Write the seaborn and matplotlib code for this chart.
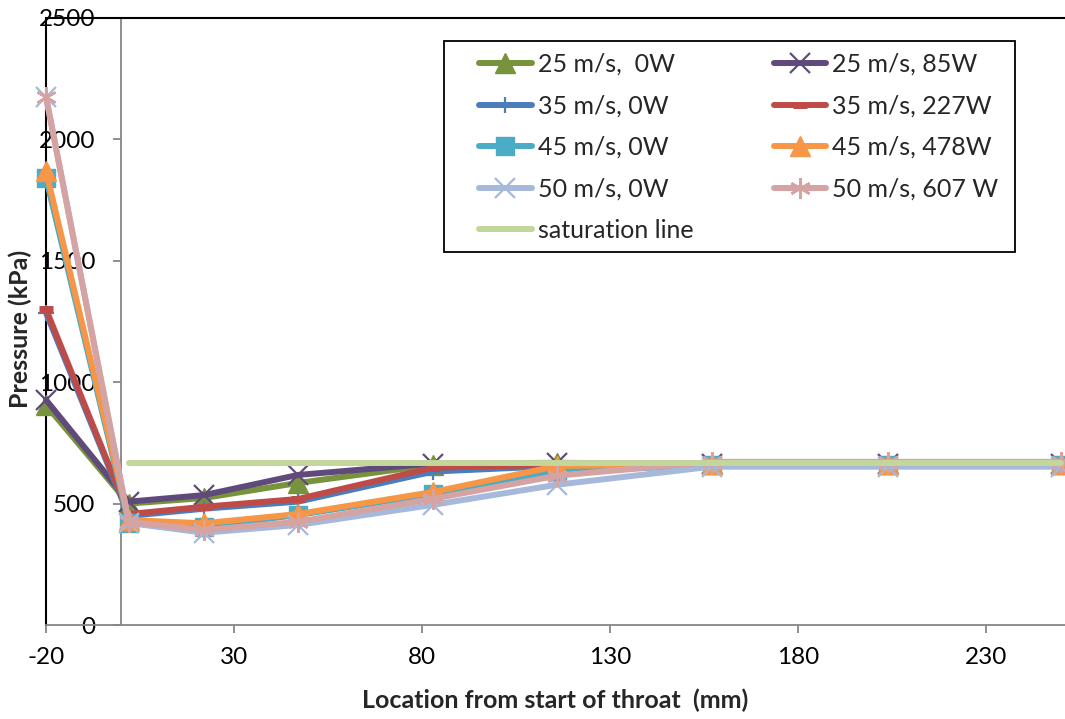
import matplotlib
matplotlib.use("Agg")
import matplotlib.pyplot as plt
from matplotlib.patches import Rectangle
import seaborn as sns

# ---------------- data ----------------
x_mm = [-20, 2, 22, 47, 83, 116, 157, 204, 250]
p25_0W = [906, 500, 523, 585, 660, 666, 663, 663, 663]
p25_85W = [927, 508, 535, 618, 665, 668, 664, 664, 664]
p35_0W = [1286, 449, 479, 508, 632, 655, 662, 662, 662]
p35_227W = [1301, 457, 487, 519, 648, 660, 663, 663, 663]
p45_0W = [1841, 420, 405, 453, 540, 632, 658, 658, 658]
p45_478W = [1870, 432, 419, 457, 548, 655, 662, 662, 662]
p50_0W = [2176, 420, 380, 412, 495, 578, 652, 652, 652]
p50_607W = [2176, 425, 391, 425, 520, 615, 672, 672, 672]
sat_x = [2, 250]
sat_y = [667, 667]

labels = ["25 m/s,  0W", "25 m/s, 85W", "35 m/s, 0W", "35 m/s, 227W",
          "45 m/s, 0W", "45 m/s, 478W", "50 m/s, 0W", "50 m/s, 607 W"]
series = [p25_0W, p25_85W, p35_0W, p35_227W, p45_0W, p45_478W, p50_0W, p50_607W]
x_ticks = [-20, 30, 80, 130, 180, 230]
y_ticks = [0, 500, 1000, 1500, 2000, 2500]

# ---------------- style ----------------
colors = ["#77933C", "#604A7B", "#4A7EBB", "#BE4B48",
          "#4BACC6", "#F79646", "#A7B9DA", "#D6A3A3"]
markers = ["^", "x", "+", "_", "s", "^", "x", (6, 2, 0)]
msizes = [14, 14, 12, 10, 13, 14, 14, 15]
mews = [1, 1.6, 1.6, 5, 1, 1, 1.6, 1.8]
sat_color = "#C3D69B"

sns.set_style("white")
plt.rcParams['font.family'] = ['Lato', 'DejaVu Sans']
plt.rcParams['axes.unicode_minus'] = False

W, H = 1065, 719
fig = plt.figure(figsize=(W / 100, H / 100), dpi=100)
ax = fig.add_axes([46 / W, 1 - 625 / H, 1 - 46 / W, (625 - 18) / H])

for vals, lab, c, m, ms, mew in zip(series, labels, colors, markers, msizes, mews):
    sns.lineplot(x=x_mm, y=vals, ax=ax, color=c, lw=4.3, marker=m,
                 markersize=ms, markeredgewidth=mew, markeredgecolor=c,
                 markerfacecolor=c, label=lab, sort=False, clip_on=False,
                 zorder=3, errorbar=None)
sns.lineplot(x=sat_x, y=sat_y, ax=ax, color=sat_color, lw=4.3,
             label="saturation line", sort=False, zorder=4, errorbar=None)

ax.set_xlim(-20, 251)
ax.set_ylim(0, 2500)
ax.set_xticks(x_ticks)
ax.set_yticks(y_ticks)

axis_gray = "#868686"
ax.spines['left'].set_position(('data', 0))
ax.spines['left'].set_color(axis_gray)
ax.spines['left'].set_linewidth(1.3)
ax.spines['bottom'].set_color(axis_gray)
ax.spines['bottom'].set_linewidth(1.3)
ax.spines['right'].set_visible(False)
ax.spines['top'].set_color('black')
ax.spines['top'].set_linewidth(1.5)
ax.axvline(-20, color='black', lw=1.5, clip_on=False, zorder=1.5)

ax.tick_params(axis='both', which='major', direction='out', length=5.8,
               width=1.3, color=axis_gray, labelcolor='black', labelsize=17.5)
ax.tick_params(axis='y', pad=13, left=True)
ax.tick_params(axis='x', pad=10, bottom=True)

ax.set_xlabel("Location from start of throat  (mm)", fontsize=18,
              fontweight='bold', va='center')
ax.xaxis.set_label_coords(0.5, (625 - 700) / 607)
ax.set_ylabel("Pressure (kPa)", fontsize=18, fontweight='bold', va='center')
ax.yaxis.set_label_coords((20 - 46) / 1019, (625 - 329) / 607)

# legend
handles, labs = ax.get_legend_handles_labels()
order = [0, 2, 4, 6, 8, 1, 3, 5, 7]
box = Rectangle((444 / W, 1 - 252 / H), (1015 - 444) / W, (252 - 41) / H,
                transform=fig.transFigure, facecolor='white',
                edgecolor='black', lw=1.3, zorder=5, clip_on=False)
ax.add_patch(box)
leg = ax.legend([handles[i] for i in order], [labs[i] for i in order],
                ncol=2, loc='upper left', bbox_to_anchor=(479 / W, 1 - 53 / H),
                bbox_transform=fig.transFigure, frameon=False, fontsize=18,
                handlelength=2.1, handletextpad=0.24, columnspacing=3.22,
                labelspacing=0.74, borderpad=0, borderaxespad=0)
leg.set_zorder(6)

fig.savefig("out.png", dpi=100)
